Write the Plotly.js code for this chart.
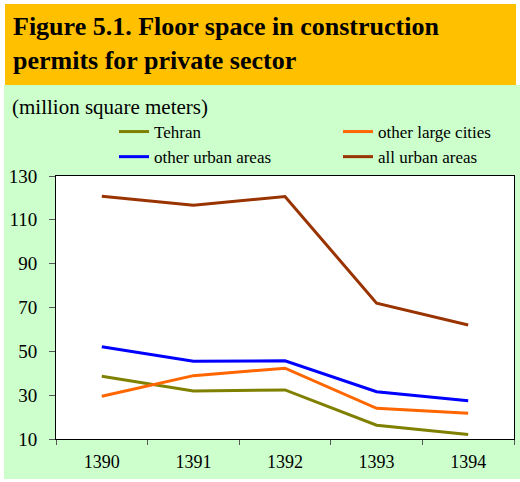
<!DOCTYPE html>
<html>
<head>
<meta charset="utf-8">
<script src="https://cdn.plot.ly/plotly-3.0.1.min.js"></script>
<style>
html,body{margin:0;padding:0;background:#ffffff;width:520px;height:482px;overflow:hidden;}
#hdr{position:absolute;left:5px;top:4px;width:511px;height:81px;background:#FFC000;}
#bg{position:absolute;left:4px;top:85px;width:516px;height:394px;background:#CCFFCC;}
#chart{position:absolute;left:0;top:0;width:520px;height:482px;}
</style>
</head>
<body>
<div id="hdr"></div>
<div id="bg"></div>
<div id="chart"></div>
<script>
const years = ["1390", "1391", "1392", "1393", "1394"];
const seriesNames = ["Tehran", "other large cities", "other urban areas", "all urban areas"];
const tehran = [38.6, 31.9, 32.4, 16.3, 12.1];
const otherLargeCities = [29.5, 38.9, 42.3, 24.0, 21.7];
const otherUrbanAreas = [52.1, 45.5, 45.7, 31.6, 27.5];
const allUrbanAreas = [120.8, 116.7, 120.6, 72.0, 62.0];
const yTicks = [10, 30, 50, 70, 90, 110, 130];

const colors = ["#808000", "#FF6600", "#0000FF", "#993300"];
const values = [tehran, otherLargeCities, otherUrbanAreas, allUrbanAreas];
const serif = "'Liberation Serif', 'Times New Roman', serif";

const traces = values.map((v, i) => ({
  type: "scatter",
  mode: "lines",
  x: years,
  y: v,
  name: seriesNames[i],
  line: {color: colors[i], width: 3},
  hoverinfo: "x+y+name"
}));

const layout = {
  width: 520,
  height: 482,
  paper_bgcolor: "rgba(0,0,0,0)",
  plot_bgcolor: "#ffffff",
  margin: {l: 56, r: 6, t: 176, b: 43, pad: 0},
  title: {
    text: "Figure 5.1. Floor space in construction<br>permits for private sector",
    font: {family: serif, size: 26, color: "#000000", weight: "bold"},
    x: 13 / 520, xanchor: "left", xref: "container",
    y: 1 - 35 / 482, yanchor: "top", yref: "container"
  },
  showlegend: true,
  legend: {
    orientation: "h",
    x: 114 / 520, xref: "container", xanchor: "left",
    y: 1 - 114 / 482, yref: "container", yanchor: "top",
    entrywidth: 179, entrywidthmode: "pixels",
    font: {family: serif, size: 17, color: "#000000"},
    bgcolor: "rgba(0,0,0,0)",
    traceorder: "normal",
    tracegroupgap: 0
  },
  xaxis: {
    type: "category",
    range: [-0.5, 4.5],
    tickson: "boundaries",
    ticks: "outside", ticklen: 5, tickcolor: "#555555", tickwidth: 1,
    ticklabelstandoff: 6,
    showline: true, linecolor: "#000000", linewidth: 1, mirror: true,
    showgrid: false, zeroline: false,
    tickfont: {family: serif, size: 18, color: "#000000"},
    fixedrange: true
  },
  yaxis: {
    range: [10, 130],
    tickvals: yTicks,
    ticktext: yTicks.map(String),
    ticks: "outside", ticklen: 6, tickcolor: "#555555", tickwidth: 1,
    ticklabelstandoff: 8,
    showline: true, linecolor: "#000000", linewidth: 1, mirror: true,
    showgrid: false, zeroline: false,
    tickfont: {family: serif, size: 19, color: "#000000"},
    fixedrange: true
  },
  annotations: [{
    text: "(million square meters)",
    xref: "paper", yref: "paper",
    x: -46 / 458, y: (439 - 121) / 263,
    xanchor: "left", yanchor: "bottom",
    showarrow: false,
    font: {family: serif, size: 21, color: "#000000"}
  }]
};

Plotly.newPlot("chart", traces, layout, {displayModeBar: false, staticPlot: true});
</script>
</body>
</html>
